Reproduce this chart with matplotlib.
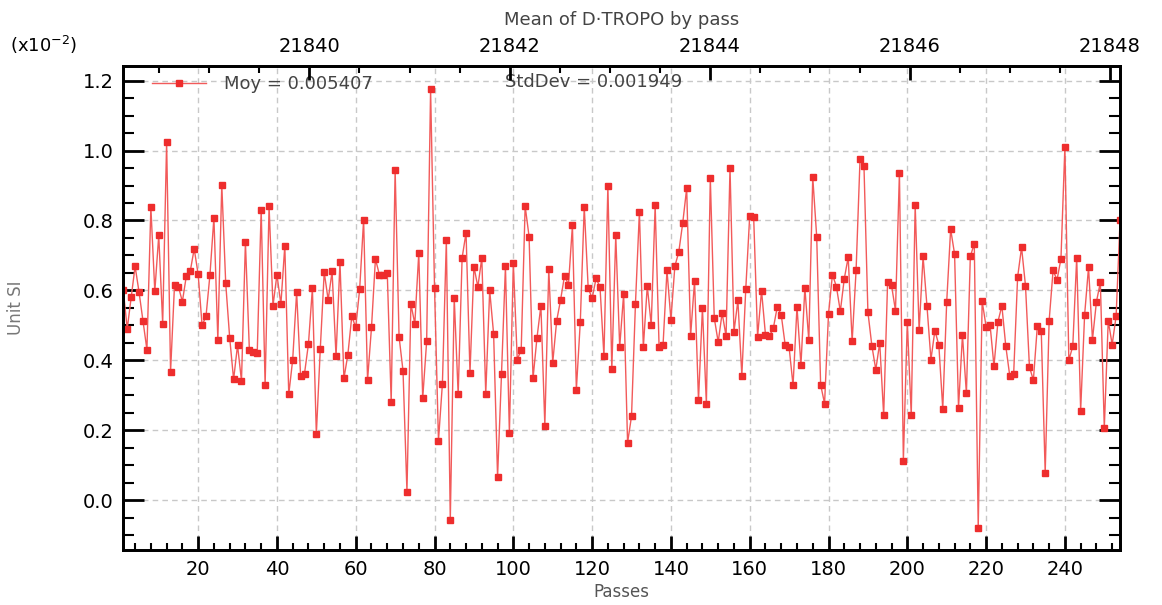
import numpy as np
import matplotlib.pyplot as plt
from matplotlib.ticker import MultipleLocator, FixedLocator, FormatStrFormatter

# mean of D-TROPO per pass, in units of 1e-2
passes = np.arange(1, 255)
d_tropo = [
    0.60, 0.49, 0.58, 0.669, 0.595, 0.513, 0.43, 0.838, 0.597, 0.757,
    0.505, 1.024, 0.367, 0.615, 0.61, 0.568, 0.641, 0.655, 0.719, 0.646,
    0.50, 0.526, 0.645, 0.808, 0.459, 0.902, 0.62, 0.465, 0.345, 0.443,
    0.341, 0.738, 0.43, 0.425, 0.422, 0.831, 0.328, 0.841, 0.556, 0.645,
    0.56, 0.728, 0.302, 0.402, 0.595, 0.356, 0.362, 0.447, 0.606, 0.188,
    0.432, 0.652, 0.573, 0.654, 0.411, 0.681, 0.348, 0.416, 0.526, 0.494,
    0.604, 0.802, 0.343, 0.494, 0.69, 0.645, 0.645, 0.651, 0.28, 0.945,
    0.467, 0.37, 0.024, 0.561, 0.504, 0.707, 0.291, 0.454, 1.175, 0.607,
    0.17, 0.333, 0.744, -0.057, 0.579, 0.302, 0.693, 0.765, 0.364, 0.668,
    0.61, 0.693, 0.304, 0.600, 0.475, 0.066, 0.361, 0.669, 0.192, 0.678,
    0.402, 0.43, 0.841, 0.754, 0.348, 0.464, 0.556, 0.213, 0.661, 0.393,
    0.513, 0.573, 0.642, 0.616, 0.786, 0.316, 0.51, 0.839, 0.607, 0.577,
    0.634, 0.61, 0.411, 0.9, 0.374, 0.757, 0.438, 0.59, 0.164, 0.24,
    0.562, 0.825, 0.437, 0.613, 0.5, 0.843, 0.438, 0.443, 0.657, 0.516,
    0.669, 0.71, 0.793, 0.892, 0.47, 0.628, 0.285, 0.55, 0.275, 0.921,
    0.521, 0.452, 0.535, 0.469, 0.951, 0.481, 0.571, 0.356, 0.604, 0.814,
    0.811, 0.467, 0.599, 0.473, 0.469, 0.492, 0.553, 0.53, 0.444, 0.437,
    0.328, 0.553, 0.386, 0.607, 0.457, 0.924, 0.754, 0.33, 0.276, 0.533,
    0.645, 0.611, 0.54, 0.633, 0.695, 0.454, 0.657, 0.975, 0.956, 0.538,
    0.442, 0.373, 0.45, 0.242, 0.624, 0.614, 0.542, 0.937, 0.113, 0.51,
    0.243, 0.844, 0.486, 0.697, 0.554, 0.402, 0.485, 0.444, 0.261, 0.567,
    0.775, 0.704, 0.264, 0.472, 0.305, 0.697, 0.734, -0.079, 0.569, 0.496,
    0.502, 0.383, 0.51, 0.556, 0.44, 0.356, 0.362, 0.638, 0.723, 0.613,
    0.381, 0.343, 0.497, 0.483, 0.078, 0.513, 0.657, 0.63, 0.69, 1.011,
    0.4, 0.44, 0.694, 0.256, 0.529, 0.666, 0.459, 0.567, 0.623, 0.206,
    0.513, 0.445, 0.526, 0.80,
]
cycles = (21838.14, 21848.1)  # top axis range
moy = 0.005407
stddev = 0.001949

plt.rcParams['font.family'] = 'DejaVu Sans'

fig = plt.figure(figsize=(11.62, 6.05), dpi=100)
ax = fig.add_axes([0.1061, 0.0909, 0.8578, 0.8])

red = '#ee2d2d'
ax.plot(passes, d_tropo, '-', color='#f25a5a', lw=1.0,
        marker='s', markersize=4.8, markerfacecolor=red, markeredgecolor=red,
        label=f'Moy = {moy:.6f}')

ax.set_xlim(1, 254)
ax.set_ylim(-0.143, 1.242)
ax.xaxis.set_major_locator(FixedLocator(np.arange(20, 260, 20)))
ax.xaxis.set_minor_locator(MultipleLocator(4))
ax.yaxis.set_major_locator(MultipleLocator(0.2))
ax.yaxis.set_minor_locator(MultipleLocator(0.05))
ax.yaxis.set_major_formatter(FormatStrFormatter('%.1f'))

ax.grid(True, which='major', color='#c8c8c8', ls=(0, (4, 3)), lw=1)
for s in ax.spines.values():
    s.set_linewidth(2)

ax.tick_params(axis='x', which='major', direction='in', length=10, width=2,
               labelsize=14, pad=7, top=False)
ax.tick_params(axis='x', which='minor', direction='in', length=5, width=1.5, top=False)
ax.tick_params(axis='y', which='major', direction='in', length=15, width=2,
               labelsize=14, pad=7, right=True)
ax.tick_params(axis='y', which='minor', direction='in', length=8, width=1.5, right=True)

ax.set_xlabel('Passes', fontsize=12, color='#555555', labelpad=3)
ax.set_ylabel('Unit SI', fontsize=12, color='#777777')
ax.yaxis.set_label_coords(-0.0986, 0.5)

# top axis: cycle numbers
top = ax.twiny()
top.set_xlim(*cycles)
top.xaxis.set_major_locator(MultipleLocator(2))
top.xaxis.set_minor_locator(MultipleLocator(0.5))
top.xaxis.set_major_formatter(FormatStrFormatter('%d'))
top.tick_params(axis='x', which='major', direction='in', length=10, width=2,
                labelsize=14, pad=7)
top.tick_params(axis='x', which='minor', direction='in', length=5, width=1.5)
for s in top.spines.values():
    s.set_linewidth(2)

leg = ax.legend(loc='upper left', frameon=False, fontsize=13, handlelength=3.0,
                handletextpad=1.0, borderaxespad=0.1, bbox_to_anchor=(0.02, 1.0))
for t in leg.get_texts():
    t.set_color('#444444')
ax.text(0.383, 0.985, f'StdDev = {stddev:.6f}', transform=ax.transAxes,
        fontsize=13, color='#444444', va='top', ha='left')

fig.text(0.5349, 1 - 20 / 605, 'Mean of D\u00b7TROPO by pass', fontsize=13,
         color='#444444', ha='center', va='center')
fig.text(10 / 1162, 1 - 45 / 605, r'(x10$^{-2}$)', fontsize=13,
         ha='left', va='center')

fig.savefig('out.png', dpi=100)
